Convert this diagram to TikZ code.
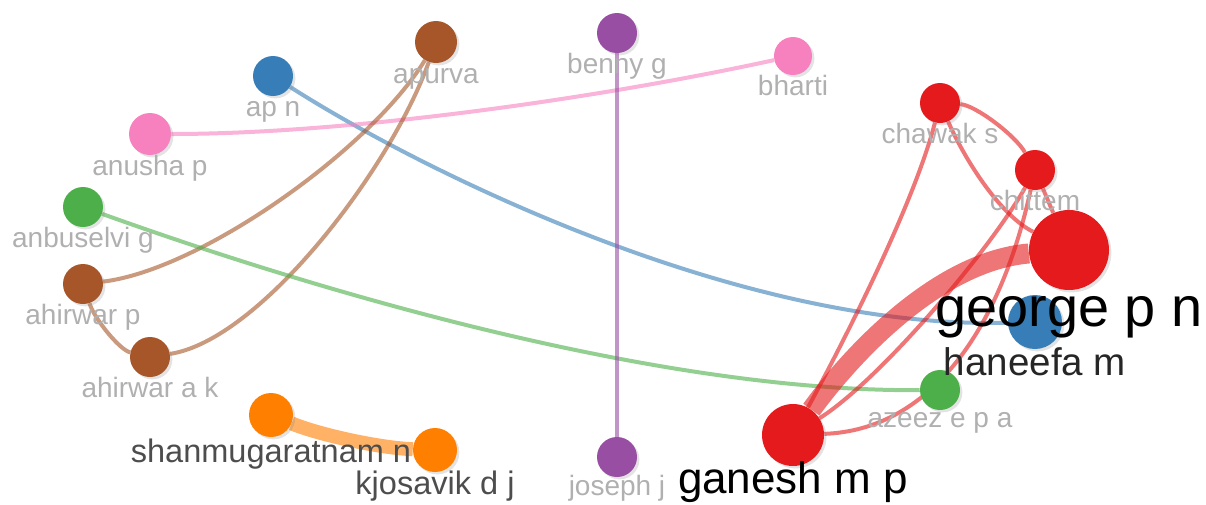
\documentclass[tikz,border=0pt]{standalone}
\usepackage{fontspec}
\setmainfont{Liberation Sans}
\usepackage{tikz}
\usetikzlibrary{shadows, backgrounds}

\definecolor{cblue}{HTML}{377EB8}
\definecolor{cbrown}{HTML}{A65628}
\definecolor{cpurple}{HTML}{984EA3}
\definecolor{cpink}{HTML}{F781BF}
\definecolor{cgreen}{HTML}{4DAF4A}
\definecolor{corange}{HTML}{FF7F00}
\definecolor{cred}{HTML}{E41A1C}
\definecolor{lblgray}{HTML}{B0B0B0}
\definecolor{lbldark}{HTML}{4D4D4D}

\tikzset{
    author/.style={shape=circle, fill=#1, inner sep=0pt, minimum size=30pt,
        drop shadow={shadow xshift=1.8pt, shadow yshift=-1.8pt, opacity=0.22}},
    glbl/.style={font=\fontsize{21}{21}\selectfont, text=lblgray, anchor=base, inner sep=0pt, label distance=15pt},
    blbl/.style={font=\fontsize{#1}{#1}\selectfont, anchor=base, inner sep=0pt},
    link/.style={draw=#1, line width=3pt, opacity=0.6}
}

\begin{document}
\begin{tikzpicture}[x=0.75pt, y=-0.75pt]

            \useasboundingbox (0,0) rectangle (1206,504);

            \node[author=cblue, label={[glbl]below:ap n}] (apn) at (273,76) {};
            \node[author=cbrown, minimum size=31.5pt, label={[glbl]below:apurva}] (apurva) at (436,42) {};
            \node[author=cpurple, label={[glbl]below:benny g}] (benny) at (617,33) {};
            \node[author=cpink, minimum size=28.5pt, label={[glbl]below:bharti}] (bharti) at (793,56) {};
            \node[author=cpink, minimum size=31.5pt, label={[glbl]below:anusha p}] (anusha) at (150,134) {};
            \node[author=cred, label={[glbl]below:chawak s}] (chawak) at (940,103) {};
            \node[author=cred, label={[glbl]below:chittem}] (chittem) at (1035,170) {};
            \node[author=cgreen, label={[glbl]below:anbuselvi g}] (anbuselvi) at (83,207) {};
            \node[author=cbrown, label={[glbl]below:ahirwar p}] (ahirwarp) at (83,284) {};
            \node[author=cbrown, label={[glbl]below:ahirwar a k}] (ahirwarak) at (150,357) {};
            \node[author=corange, minimum size=33pt, label={[blbl=24.4, text=lbldark, label distance=19pt]below:shanmugaratnam n}] (shanmu) at (271,415) {};
            \node[author=corange, minimum size=33pt, label={[blbl=24.4, text=lbldark, label distance=16.5pt]below:kjosavik d j}] (kjosavik) at (435,450) {};
            \node[author=cpurple, label={[glbl, label distance=13.5pt]below:joseph j}] (joseph) at (617,457) {};
            \node[author=cgreen, label={[glbl, label distance=13pt]below:azeez e p a}] (azeez) at (940,390) {};
            \node[author=cblue, minimum size=40.5pt, label={[blbl=28.9, text=black!85, label distance=19.5pt]below:haneefa m}] (haneefa) at (1035,322) {};
            \node[author=cred, minimum size=60pt, label={[blbl=41.9, text=black, label distance=27pt]below:george p n}] (george) at (1069,250) {};
            \node[author=cred, minimum size=46.5pt, label={[blbl=33, text=black, label distance=20.5pt]below:ganesh m p}] (ganesh) at (793,435) {};

            \begin{scope}[on background layer]
            \draw[link=cblue] (apn) .. controls (420,170) and (740,330) .. (haneefa);
            \draw[link=cpink] (anusha) .. controls (350,134) and (600,98) .. (bharti);
            \draw[link=cbrown] (ahirwarp) .. controls (200,270) and (370,150) .. (apurva);
            \draw[link=cbrown] (ahirwarak) .. controls (260,340) and (390,170) .. (apurva);
            \draw[link=cbrown] (ahirwarp) .. controls (95,320) and (120,350) .. (ahirwarak);
            \draw[link=cgreen] (anbuselvi) .. controls (300,285) and (650,392) .. (azeez);
            \draw[link=cpurple] (benny) -- (joseph);
            \draw[link=corange, line width=10.5pt] (shanmu) .. controls (320,435) and (380,448) .. (kjosavik);
            \draw[link=cred, line width=15pt] (ganesh) .. controls (840,370) and (930,262) .. (george);
            \draw[link=cred] (ganesh) .. controls (850,330) and (915,200) .. (chawak);
            \draw[link=cred] (ganesh) .. controls (880,380) and (990,250) .. (chittem);
            \draw[link=cred] (ganesh) .. controls (930,430) and (1000,330) .. (chittem);
            \draw[link=cred] (chawak) .. controls (975,105) and (1015,135) .. (chittem);
            \draw[link=cred] (chawak) .. controls (965,160) and (1000,215) .. (george);
            \draw[link=cred] (chittem) -- (george);
            \end{scope}

        \end{tikzpicture}
\end{document}
